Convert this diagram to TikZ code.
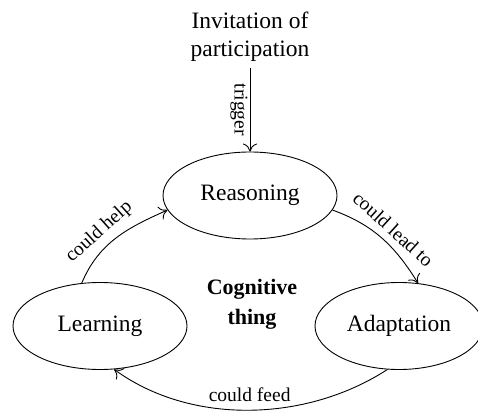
\documentclass[tikz,border=0pt]{standalone}
\usepackage{fontspec}
\setmainfont{Liberation Serif}
\usetikzlibrary{shapes.geometric,arrows.meta}
\begin{document}
\begin{tikzpicture}[x=1pt,y=1pt,
  state/.style={ellipse,draw,line width=0.9pt,minimum width=174pt,minimum height=87pt,inner sep=0pt,font=\fontsize{23.5}{28}\selectfont},
  conn/.style={line width=0.9pt,-{Computer Modern Rightarrow[length=8pt,width=14pt]}},
  lbl/.style={font=\fontsize{19.5}{23}\selectfont,inner sep=2pt}]
\useasboundingbox (0,0) rectangle (478,412);
\node[align=center,font=\fontsize{23.5}{28}\selectfont,inner sep=0pt] (inv) at (250,375) {Invitation of\\participation};
\coordinate (tstart) at (250,344);
\node[state] (rea) at (250,216.5) {Reasoning};
\node[state] (lea) at (100,86) {Learning};
\node[state,minimum width=168pt] (ada) at (399,86) {Adaptation};
\node[align=center,font=\bfseries\fontsize{22}{30}\selectfont] (cog) at (252,108) {Cognitive\\thing};
\draw[conn] (tstart) -- node[lbl,midway,sloped,below=0pt] {trigger} (rea.north);
\draw[conn] (lea.113) to[out=67,in=204] node[lbl,pos=0.42,sloped,above=4pt] {could help} (rea.190);
\draw[conn] (rea.-10) to[out=-20,in=122] node[lbl,pos=0.52,sloped,above=5pt] {could lead to} (ada.66);
\draw[conn] (ada.255) to[out=-147,in=-36,looseness=0.9] node[lbl,pos=0.5,above=6pt] {could feed} (lea.-72);
\end{tikzpicture}
\end{document}
